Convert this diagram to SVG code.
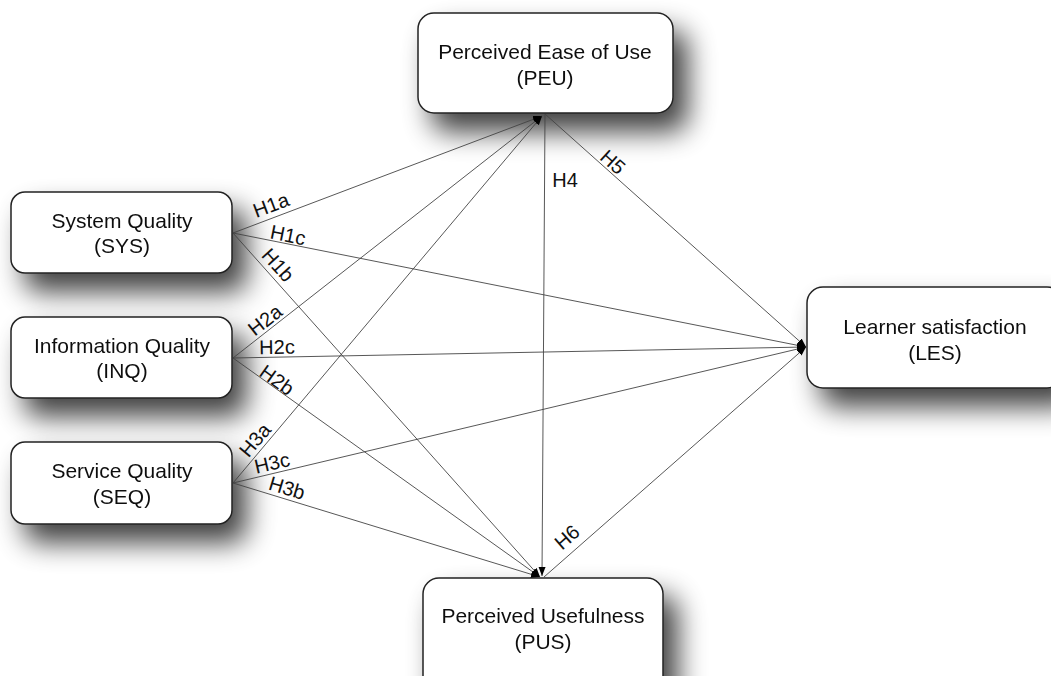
<svg xmlns="http://www.w3.org/2000/svg" width="1051" height="676" viewBox="0 0 1051 676">
<defs>
<filter id="sh" x="-40%" y="-60%" width="190%" height="240%">
<feGaussianBlur in="SourceAlpha" stdDeviation="14"/>
<feOffset dx="14" dy="18" result="b"/>
<feComponentTransfer><feFuncA type="linear" slope="0.75"/></feComponentTransfer>
<feMerge><feMergeNode/><feMergeNode in="SourceGraphic"/></feMerge>
</filter>
<marker id="ah" markerUnits="userSpaceOnUse" markerWidth="10" markerHeight="8" refX="9" refY="4" orient="auto">
<path d="M0,0.5 L9,4 L0,7.5 Z" fill="#000"/>
</marker>
<style>
.box{fill:#fff;stroke:#222;stroke-width:1.5}
.t{font-family:"Liberation Sans",Arial,sans-serif;font-size:21px;fill:#111;text-anchor:middle}
.l{font-family:"Liberation Sans",Arial,sans-serif;font-size:20px;fill:#111;text-anchor:middle}
.c line{stroke:#444;stroke-width:0.9;marker-end:url(#ah)}
</style>
</defs>
<rect width="1051" height="676" fill="#fff"/>
<g id="PEU" filter="url(#sh)"><rect class="box" x="418" y="13" width="255" height="100" rx="16"/><text class="t" x="545" y="59">Perceived Ease of Use</text><text class="t" x="545" y="85">(PEU)</text></g>
<g id="SYS" filter="url(#sh)"><rect class="box" x="11" y="192" width="221" height="81" rx="14"/><text class="t" x="122" y="228">System Quality</text><text class="t" x="122" y="253">(SYS)</text></g>
<g id="INQ" filter="url(#sh)"><rect class="box" x="11" y="317" width="221" height="81" rx="14"/><text class="t" x="122" y="353">Information Quality</text><text class="t" x="122" y="378">(INQ)</text></g>
<g id="SEQ" filter="url(#sh)"><rect class="box" x="11" y="442" width="221" height="82" rx="14"/><text class="t" x="122" y="478">Service Quality</text><text class="t" x="122" y="504">(SEQ)</text></g>
<g id="LES" filter="url(#sh)"><rect class="box" x="807" y="287" width="256" height="101" rx="16"/><text class="t" x="935" y="334">Learner satisfaction</text><text class="t" x="935" y="360">(LES)</text></g>
<g id="PUS" filter="url(#sh)"><rect class="box" x="423" y="578" width="240" height="120" rx="16"/><text class="t" x="543" y="623">Perceived Usefulness</text><text class="t" x="543" y="649">(PUS)</text></g>
<g id="connectors" class="c">
<line x1="233" y1="233" x2="542" y2="116"/>
<line x1="233" y1="233" x2="806" y2="347"/>
<line x1="233" y1="233" x2="540" y2="577"/>
<line x1="233" y1="358" x2="542" y2="116"/>
<line x1="233" y1="358" x2="806" y2="347"/>
<line x1="233" y1="358" x2="540" y2="577"/>
<line x1="233" y1="483" x2="542" y2="116"/>
<line x1="233" y1="483" x2="806" y2="347"/>
<line x1="233" y1="483" x2="540" y2="577"/>
<line x1="545" y1="114" x2="542" y2="576"/>
<line x1="545" y1="114" x2="806" y2="347"/>
<line x1="544" y1="577" x2="806" y2="347"/>
</g>
<g id="labels">
<text class="l" transform="translate(271,205) rotate(-20.6)" dy="7">H1a</text>
<text class="l" transform="translate(288,235) rotate(11.4)" dy="7">H1c</text>
<text class="l" transform="translate(278,265) rotate(48)" dy="7">H1b</text>
<text class="l" transform="translate(265,320) rotate(-38)" dy="7">H2a</text>
<text class="l" transform="translate(277,347) rotate(-1)" dy="7">H2c</text>
<text class="l" transform="translate(277,380) rotate(35.5)" dy="7">H2b</text>
<text class="l" transform="translate(255,440) rotate(-50)" dy="7">H3a</text>
<text class="l" transform="translate(272,463) rotate(-13)" dy="7">H3c</text>
<text class="l" transform="translate(287,488) rotate(17)" dy="7">H3b</text>
<text class="l" transform="translate(565,180)" dy="7">H4</text>
<text class="l" transform="translate(613,162) rotate(42)" dy="7">H5</text>
<text class="l" transform="translate(567,537) rotate(-41)" dy="7">H6</text>
</g>
</svg>
